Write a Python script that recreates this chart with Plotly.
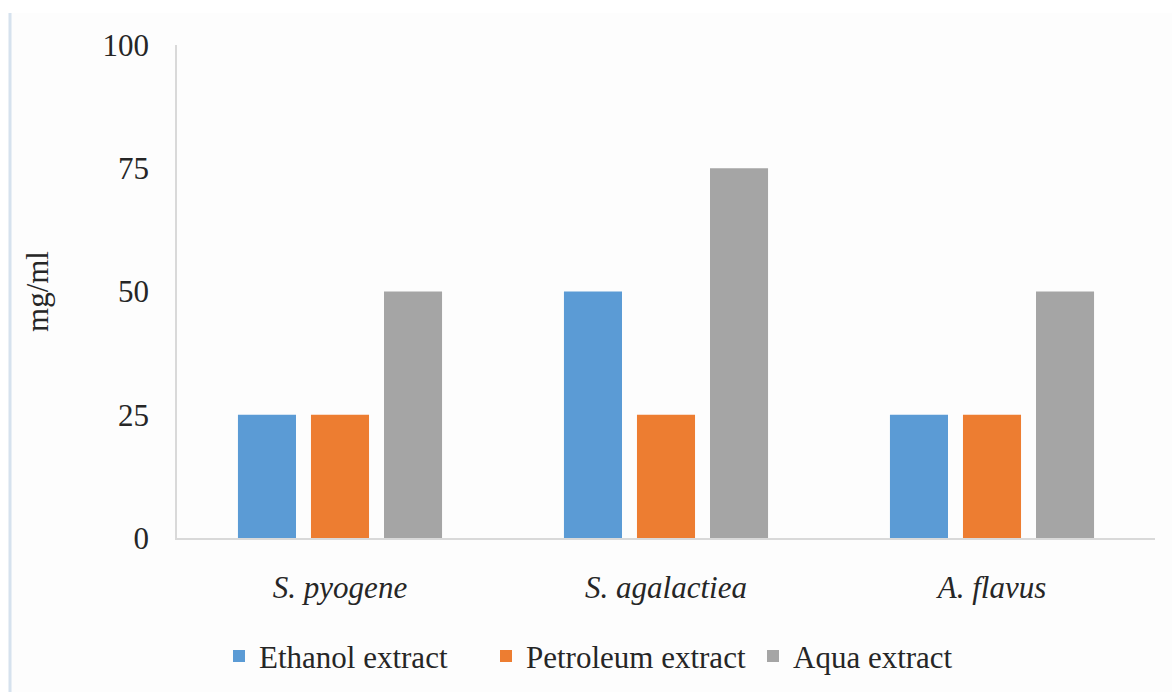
import plotly.graph_objects as go

# Minimum inhibitory concentration by organism and extract type
organisms = ["S. pyogene", "S. agalactiea", "A. flavus"]
ethanol_extract = [25, 50, 25]
petroleum_extract = [25, 25, 25]
aqua_extract = [50, 75, 50]

series_names = ["Ethanol extract", "Petroleum extract", "Aqua extract"]
series_colors = ["#5B9BD5", "#ED7D31", "#A5A5A5"]
y_ticks = [0, 25, 50, 75, 100]

FONT = "Liberation Serif"
SIZE = 31

fig = go.Figure()
for name, values, color in zip(series_names,
                               [ethanol_extract, petroleum_extract, aqua_extract],
                               series_colors):
    fig.add_trace(go.Bar(
        name=name, x=organisms, y=values,
        marker=dict(color=color, line=dict(width=0)),
    ))

fig.update_layout(
    width=1172, height=692,
    margin=dict(l=177, r=17, t=45, b=154, autoexpand=False),
    paper_bgcolor="#FFFFFF",
    plot_bgcolor="rgba(0,0,0,0)",
    barmode="group",
    bargap=0.328,
    bargroupgap=0.205,
    font=dict(family=FONT, size=SIZE, color="#262626"),
    showlegend=True,
    legend=dict(
        orientation="h",
        x=(219 - 177) / 978, xanchor="left",
        y=-0.24, yanchor="middle",
        bgcolor="rgba(0,0,0,0)",
        entrywidth=222, entrywidthmode="pixels",
        font=dict(family=FONT, size=SIZE, color="#262626"),
        itemclick=False,
        traceorder="normal",
    ),
    xaxis=dict(
        automargin=False,
        showgrid=False,
        showline=True, linecolor="#D9D9D9", linewidth=1.5,
        ticks="", ticklabelstandoff=21,
        tickfont=dict(family=FONT, size=SIZE, style="italic", color="#262626"),
        zeroline=False,
    ),
    yaxis=dict(
        automargin=False,
        range=[0, 100],
        tickvals=y_ticks,
        showgrid=False,
        showline=True, linecolor="#D9D9D9", linewidth=1.5,
        ticks="", ticklabelstandoff=20,
        zeroline=False,
        tickfont=dict(family=FONT, size=SIZE, color="#262626"),
        title=dict(text="mg/ml", standoff=45,
                   font=dict(family=FONT, size=SIZE, color="#262626")),
    ),
    shapes=[
        # faint page frame with a light edge on the left
        dict(type="rect", xref="paper", yref="paper",
             x0=-167 / 978, x1=1.02, y0=-0.32, y1=1.065,
             fillcolor="rgba(248,248,248,0.35)", line=dict(width=0),
             layer="below"),
        dict(type="line", xref="paper", yref="paper",
             x0=-167 / 978, x1=-167 / 978, y0=-0.32, y1=1.065,
             line=dict(color="#D6E2EE", width=3), layer="below"),
    ],
)

fig.write_html("out.html")
